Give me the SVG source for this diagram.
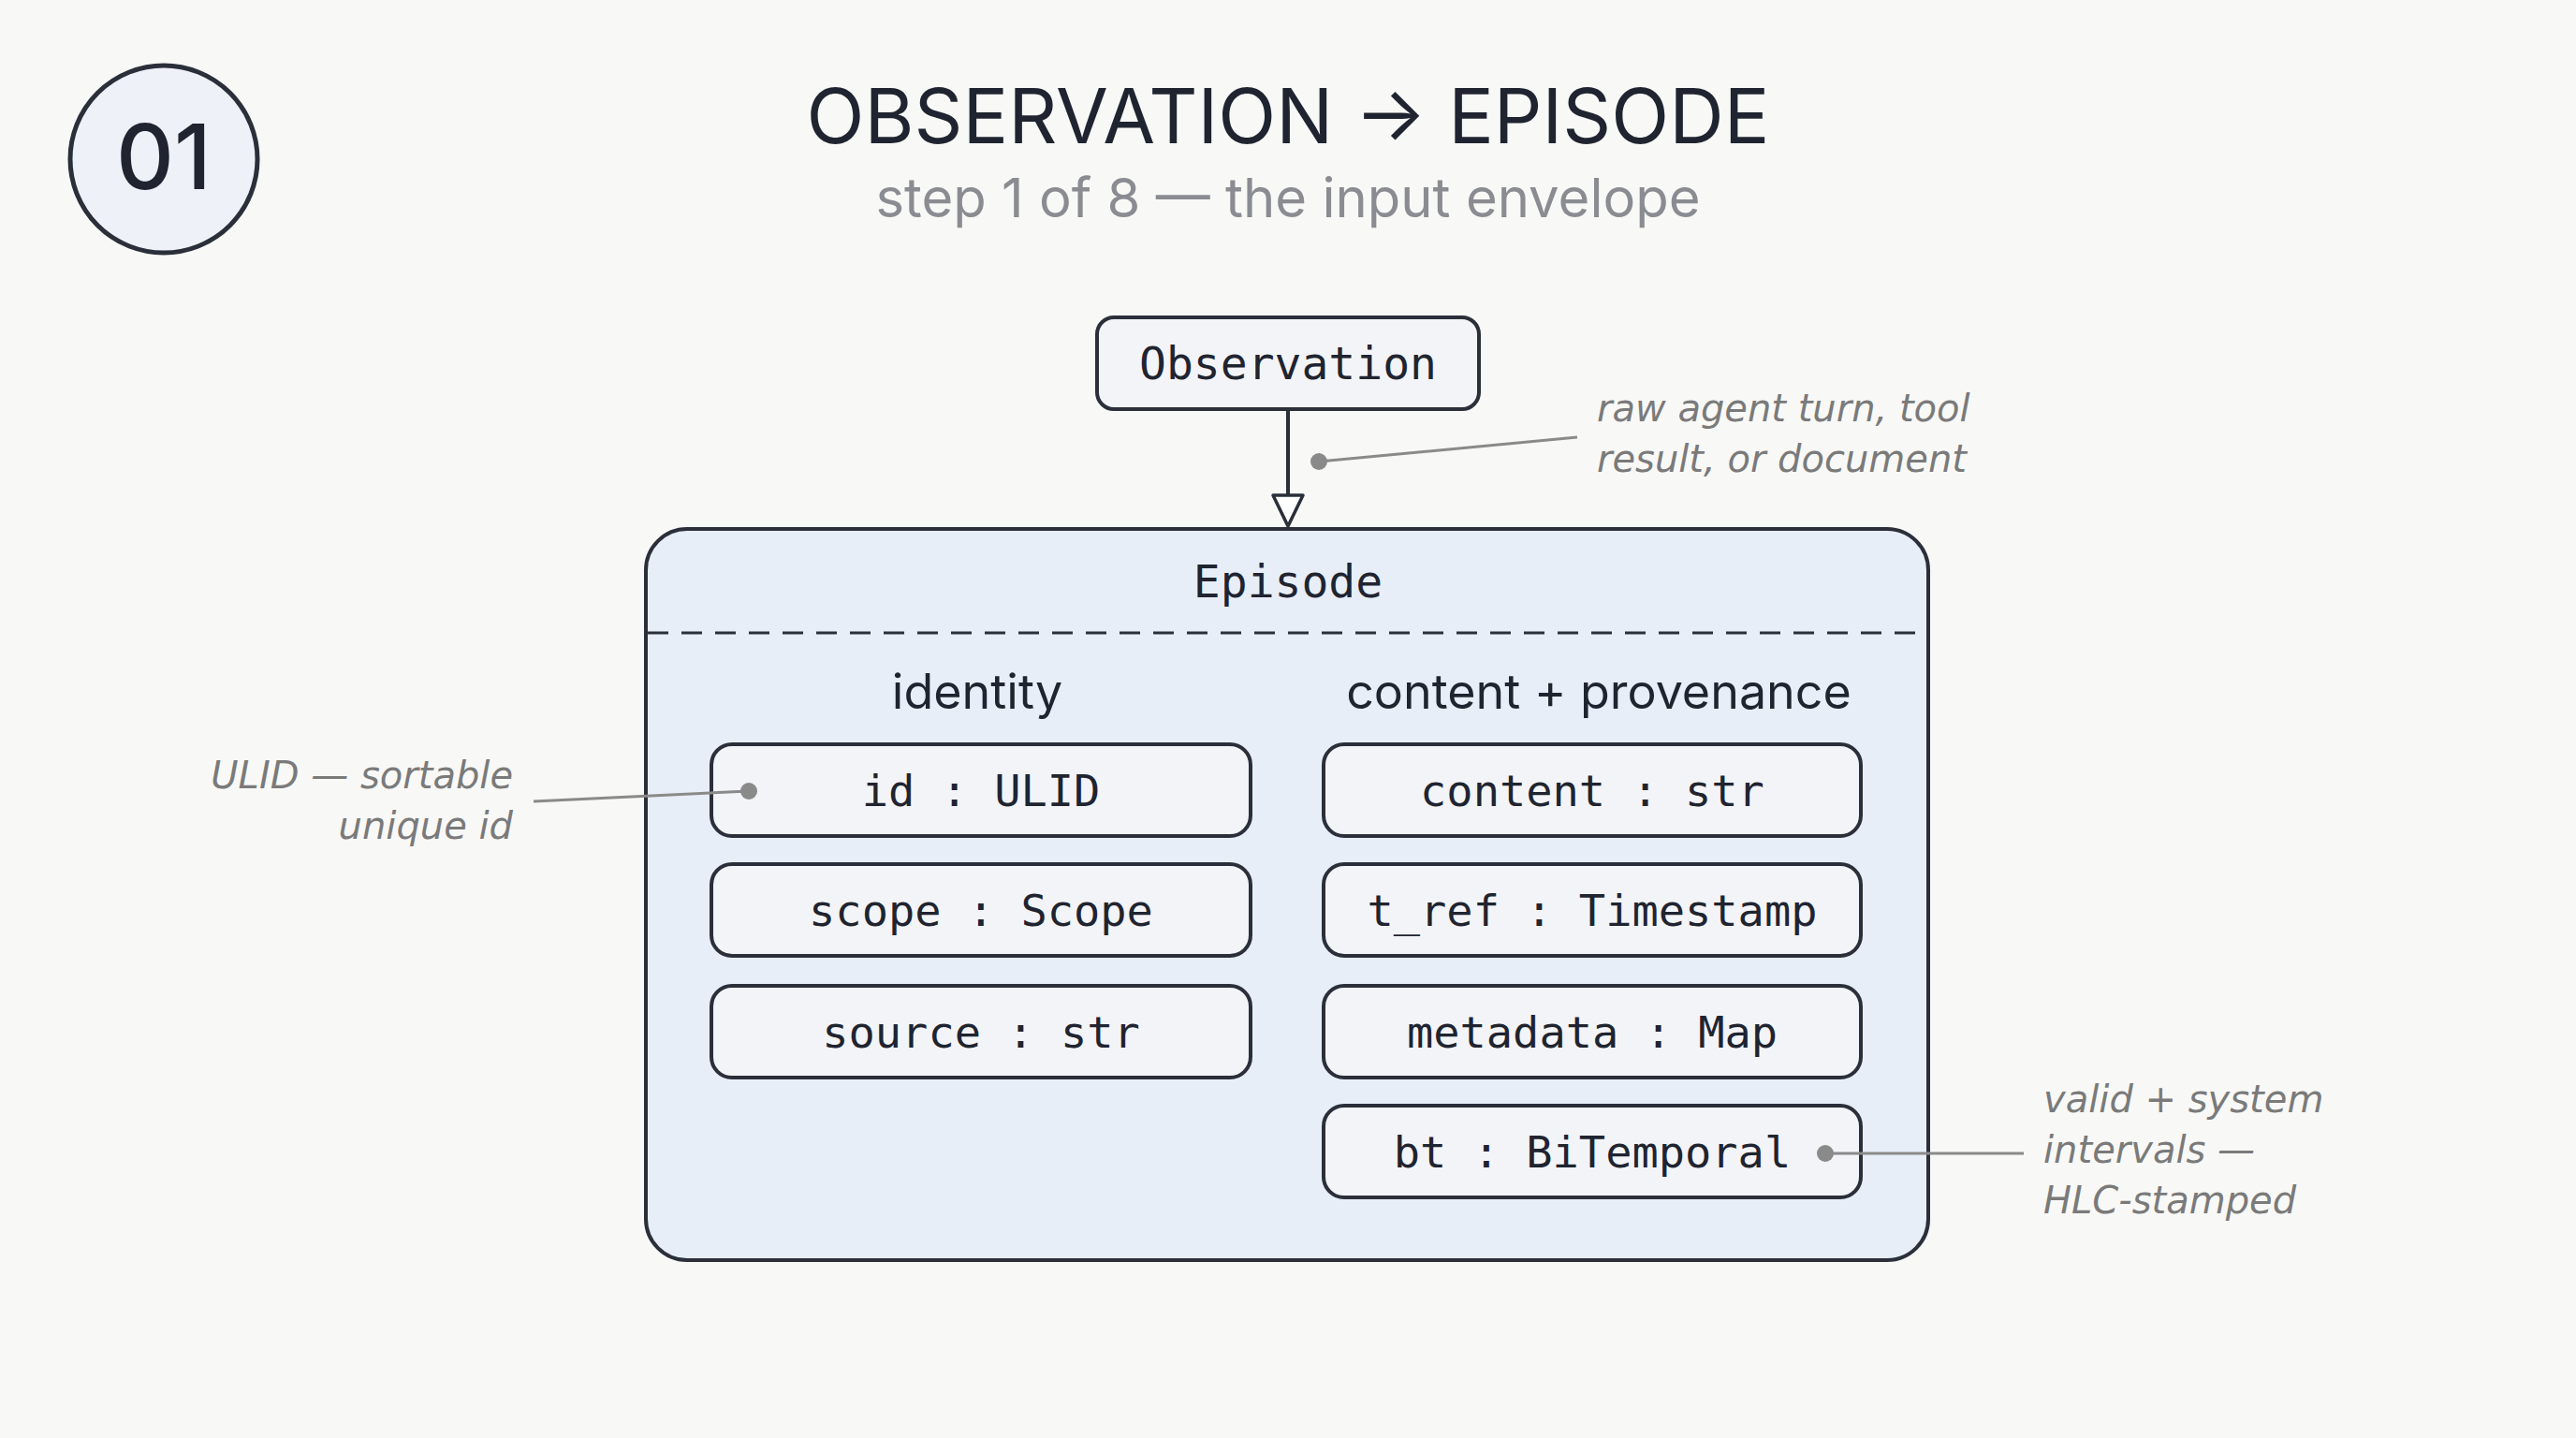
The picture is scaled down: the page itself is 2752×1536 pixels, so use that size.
<svg xmlns="http://www.w3.org/2000/svg" width="2752" height="1536" viewBox="0 0 2752 1536">
<style>
.mono{font-family:"DejaVu Sans Mono","Liberation Mono",monospace;fill:#1f2430;text-anchor:middle}
.sans{font-family:Inter,"Noto Sans",sans-serif;fill:#1f2430;text-anchor:middle}
.note{font-family:"DejaVu Sans","Liberation Sans",sans-serif;font-style:italic;fill:#7a7a7a;font-size:40px}
.field{fill:#f3f4f7;stroke:#2a2f3a;stroke-width:4}
.lead{stroke:#8a8a8a;stroke-width:3;fill:none}
.dot{fill:#8a8a8a}
</style>
<defs>
<marker id="tri" markerWidth="40" markerHeight="40" refX="36" refY="20" orient="auto" markerUnits="userSpaceOnUse">
<path d="M3,4 L36,20 L3,36 Z" fill="#ffffff" stroke="#2a2f3a" stroke-width="3.5" stroke-linejoin="round"/>
</marker>
</defs>
<rect width="2752" height="1536" fill="#f8f8f6"/>
<g id="badge">
<circle cx="175" cy="170" r="100" fill="#eef1f7" stroke="#2a2f3a" stroke-width="5"/>
<text x="175" y="202" class="sans" font-size="96" font-weight="500">01</text>
</g>
<g id="title">
<text x="1376" y="153" class="sans" font-size="81">OBSERVATION → EPISODE</text>
<text x="1376" y="232" class="sans" font-size="58" style="fill:#8a8c92">step 1 of 8 — the input envelope</text>
</g>
<g id="observation">
<rect x="1172" y="339" width="408" height="98" rx="18" class="field"/>
<text x="1376" y="405" class="mono" font-size="48">Observation</text>
</g>
<g id="episode">
<rect x="690" y="565" width="1370" height="781" rx="44" fill="#e8eef8" stroke="#2a2f3a" stroke-width="4"/>
<text x="1376" y="638" class="mono" font-size="48">Episode</text>
<line x1="692" y1="676" x2="2058" y2="676" stroke="#2a2f3a" stroke-width="3" stroke-dasharray="22 14"/>
<text x="1044" y="757" class="sans" font-size="52">identity</text>
<text x="1708" y="757" class="sans" font-size="52">content + provenance</text>
</g>
<g id="f-id"><rect x="760" y="795" width="576" height="98" rx="22" class="field"/><text x="1048" y="861" class="mono" font-size="47">id : ULID</text></g>
<g id="f-scope"><rect x="760" y="923" width="576" height="98" rx="22" class="field"/><text x="1048" y="989" class="mono" font-size="47">scope : Scope</text></g>
<g id="f-source"><rect x="760" y="1053" width="576" height="98" rx="22" class="field"/><text x="1048" y="1119" class="mono" font-size="47">source : str</text></g>
<g id="f-content"><rect x="1414" y="795" width="574" height="98" rx="22" class="field"/><text x="1701" y="861" class="mono" font-size="47">content : str</text></g>
<g id="f-tref"><rect x="1414" y="923" width="574" height="98" rx="22" class="field"/><text x="1701" y="989" class="mono" font-size="47">t_ref : Timestamp</text></g>
<g id="f-meta"><rect x="1414" y="1053" width="574" height="98" rx="22" class="field"/><text x="1701" y="1119" class="mono" font-size="47">metadata : Map</text></g>
<g id="f-bt"><rect x="1414" y="1181" width="574" height="98" rx="22" class="field"/><text x="1701" y="1247" class="mono" font-size="47">bt : BiTemporal</text></g>
<g id="connectors">
<line x1="1376" y1="437" x2="1376" y2="562" stroke="#2a2f3a" stroke-width="4" marker-end="url(#tri)"/>
<path class="lead" d="M1409,493 L1685,467"/><circle class="dot" cx="1409" cy="493" r="9"/>
<path class="lead" d="M570,856 L800,845"/><circle class="dot" cx="800" cy="845" r="9"/>
<path class="lead" d="M1950,1232 L2162,1232"/><circle class="dot" cx="1950" cy="1232" r="9"/>
</g>
<g id="notes">
<text x="1706" y="450" class="note">raw agent turn, tool</text>
<text x="1706" y="504" class="note">result, or document</text>
<text x="548" y="842" class="note" text-anchor="end">ULID — sortable</text>
<text x="548" y="896" class="note" text-anchor="end">unique id</text>
<text x="2183" y="1188" class="note">valid + system</text>
<text x="2183" y="1242" class="note">intervals —</text>
<text x="2183" y="1296" class="note">HLC-stamped</text>
</g>
</svg>
